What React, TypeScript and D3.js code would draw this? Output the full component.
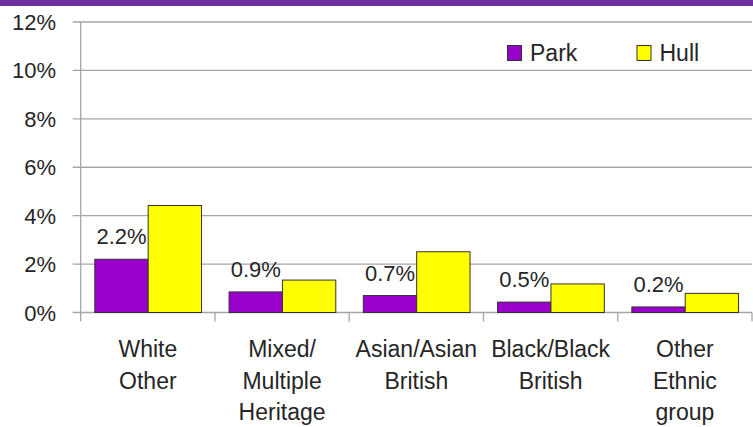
import React from "react";
import * as d3 from "d3";

const categories = [
  "White Other",
  "Mixed/ Multiple Heritage",
  "Asian/Asian British",
  "Black/Black British",
  "Other Ethnic group",
];
const seriesNames = ["Park", "Hull"];
const parkValues = [2.2, 0.85, 0.7, 0.43, 0.23];
const hullValues = [4.42, 1.34, 2.51, 1.18, 0.79];
const parkLabels = ["2.2%", "0.9%", "0.7%", "0.5%", "0.2%"];
const yTicks = [0, 2, 4, 6, 8, 10, 12];
const colors = ["#9900CC", "#FFFF00"];

const W = 753;
const H = 427;
const FONT = "'Liberation Sans', Arial, sans-serif";
const TEXT = "#262626";
const GRID = "#A6A6A6";

export default function App() {
  const left = 80.7;
  const right = 752;
  const top = 22;
  const bottom = 312.5;

  const x0 = d3.scaleBand<string>().domain(categories).range([left, right]).padding(0);
  const bw = x0.bandwidth();
  const x1 = d3.scaleBand<string>().domain(seriesNames).range([bw * 0.105, bw * 0.9]).padding(0);
  const y = d3.scaleLinear().domain([0, 12]).range([bottom, top]);

  const seriesValues = [parkValues, hullValues];

  return (
    <div style={{ position: "fixed", left: 0, top: 0 }}>
      <svg width={W} height={H} style={{ display: "block", background: "#fff" }}>
        <rect x={0} y={0} width={W} height={6} fill="#7030A0" />
        {/* gridlines and y ticks */}
        {yTicks.map((t) => (
          <g key={t}>
            <line x1={left - 8} x2={right} y1={y(t)} y2={y(t)} stroke={GRID} strokeWidth={1.3} />
            <text
              x={56}
              y={y(t) + 8}
              textAnchor="end"
              fontFamily={FONT}
              fontSize={22}
              fill={TEXT}
            >
              {t}%
            </text>
          </g>
        ))}
        {/* y axis */}
        <line x1={left} x2={left} y1={top} y2={bottom + 9} stroke={GRID} strokeWidth={1.3} />
        {/* category ticks */}
        {categories.map((c) => (
          <line
            key={"t" + c}
            x1={(x0(c) as number) + bw}
            x2={(x0(c) as number) + bw}
            y1={bottom}
            y2={bottom + 9}
            stroke={GRID}
            strokeWidth={1.3}
          />
        ))}
        {/* bars */}
        {categories.map((c, i) => (
          <g key={c} transform={`translate(${x0(c)},0)`}>
            {seriesNames.map((s, j) => {
              const v = seriesValues[j][i];
              return (
                <rect
                  key={s}
                  x={x1(s)}
                  y={y(v)}
                  width={x1.bandwidth()}
                  height={bottom - y(v)}
                  fill={colors[j]}
                  stroke="#333"
                  strokeWidth={1}
                />
              );
            })}
            <text
              x={(x1("Park") as number) + x1.bandwidth() / 2}
              y={y(parkValues[i]) - 15}
              textAnchor="middle"
              fontFamily={FONT}
              fontSize={22}
              fill={TEXT}
            >
              {parkLabels[i]}
            </text>
          </g>
        ))}
        {/* category labels */}
        {categories.map((c) => (
          <text
            key={"l" + c}
            x={(x0(c) as number) + bw / 2}
            y={357}
            textAnchor="middle"
            fontFamily={FONT}
            fontSize={23}
            fill={TEXT}
          >
            {c.split(" ").map((w, k) => (
              <tspan key={k} x={(x0(c) as number) + bw / 2} dy={k === 0 ? 0 : 31.6}>
                {w}
              </tspan>
            ))}
          </text>
        ))}
        {/* legend */}
        {seriesNames.map((s, j) => {
          const lx = j === 0 ? 507.5 : 637;
          return (
            <g key={"lg" + s}>
              <rect x={lx} y={45.5} width={14} height={15} fill={colors[j]} stroke="#333" strokeWidth={1} />
              <text x={lx + 22.5} y={60.5} fontFamily={FONT} fontSize={23} fill={TEXT}>
                {s}
              </text>
            </g>
          );
        })}
      </svg>
    </div>
  );
}
